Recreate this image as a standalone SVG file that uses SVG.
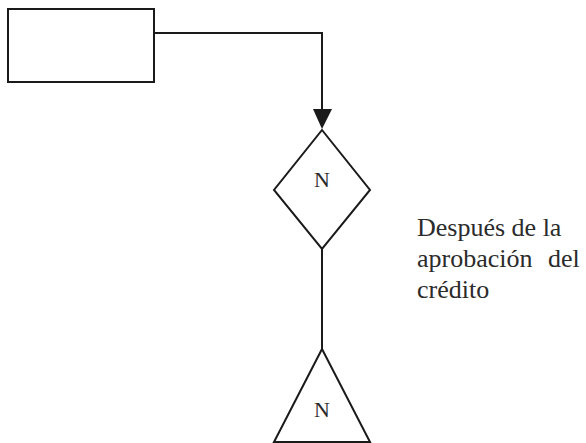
<svg xmlns="http://www.w3.org/2000/svg" width="586" height="443" viewBox="0 0 586 443">
  <style>
    .shape { fill: #ffffff; stroke: #1a1a1a; stroke-width: 2; }
    .wire { fill: none; stroke: #1a1a1a; stroke-width: 2; }
    .lbl { font-family: "Liberation Serif", "Times New Roman", serif; fill: #2b2b2b; }
  </style>
  <rect width="586" height="443" fill="#ffffff"/>

  <g id="connectors">
    <path class="wire" d="M154,33 H322 V112"/>
    <path d="M313,109 L332,109 L322,129 Z" fill="#1a1a1a"/>
    <path class="wire" d="M322,249 V349"/>
  </g>

  <g id="entity">
    <rect class="shape" x="8" y="9" width="146" height="73"/>
  </g>

  <g id="decision">
    <path class="shape" d="M322,130 L370,190 L322,249 L274,190 Z"/>
    <text class="lbl" x="322" y="187" font-size="22" text-anchor="middle">N</text>
  </g>

  <g id="terminal">
    <path class="shape" d="M322,349 L370,442 L274,442 Z"/>
    <text class="lbl" x="322" y="417" font-size="22" text-anchor="middle">N</text>
  </g>

  <g id="note">
    <text class="lbl" font-size="26">
      <tspan x="417" y="236">Después de la</tspan>
      <tspan x="417" y="267">aprobación</tspan>
      <tspan x="548" y="267">del</tspan>
      <tspan x="417" y="298">crédito</tspan>
    </text>
  </g>
</svg>
